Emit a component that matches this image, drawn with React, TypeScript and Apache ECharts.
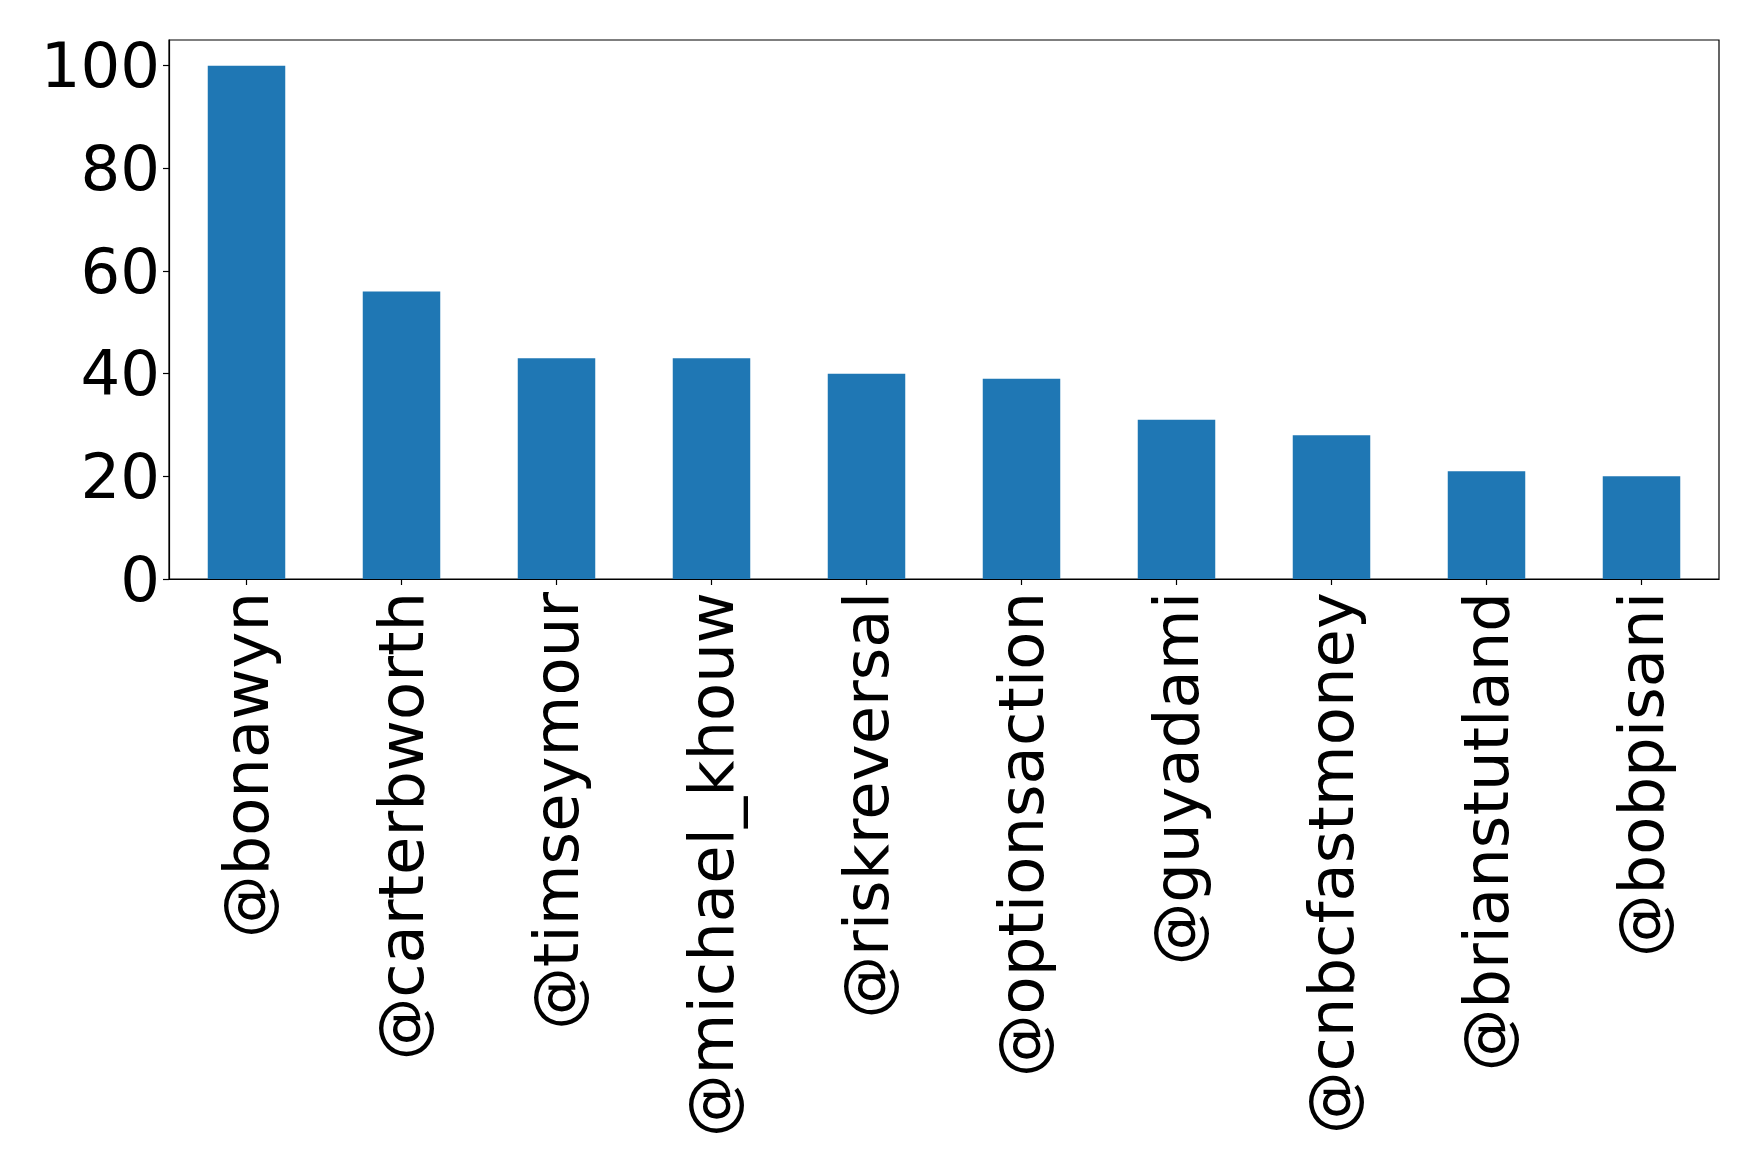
import React, { useEffect, useRef } from "react";
import * as echarts from "echarts";

// Mention counts per account
const handles = [
  "@bonawyn",
  "@carterbworth",
  "@timseymour",
  "@michael_khouw",
  "@riskreversal",
  "@optionsaction",
  "@guyadami",
  "@cnbcfastmoney",
  "@brianstutland",
  "@bobpisani",
];
const counts = [100, 56, 43, 43, 40, 39, 31, 28, 21, 20];
const yTicks = [0, 20, 40, 60, 80, 100];

const FONT = "DejaVu Sans";

export default function App() {
  const ref = useRef<HTMLDivElement>(null);

  useEffect(() => {
    document.body.style.margin = "0";
    if (!ref.current) return;
    const chart = echarts.init(ref.current, null, { renderer: "svg" });
    chart.setOption({
      animation: false,
      backgroundColor: "#ffffff",
      grid: {
        left: 169,
        top: 40,
        right: 39,
        bottom: 594,
        show: true,
        borderColor: "#000000",
        borderWidth: 1.2,
        backgroundColor: "transparent",
      },
      xAxis: {
        type: "category",
        data: handles,
        boundaryGap: true,
        axisLine: { show: true, lineStyle: { color: "#000000", width: 1.2 } },
        axisTick: {
          show: true,
          alignWithLabel: true,
          length: 6,
          lineStyle: { color: "#000000", width: 1.2 },
        },
        axisLabel: {
          rotate: 90,
          interval: 0,
          margin: 13,
          color: "#000000",
          fontFamily: FONT,
          fontSize: 62.5,
        },
        splitLine: { show: false },
      },
      yAxis: {
        type: "value",
        min: 0,
        max: 105,
        axisLine: { show: true, lineStyle: { color: "#000000", width: 1.2 } },
        axisTick: {
          show: true,
          length: 6,
          customValues: yTicks,
          lineStyle: { color: "#000000", width: 1.2 },
        },
        axisLabel: {
          customValues: yTicks,
          margin: 9,
          color: "#000000",
          fontFamily: FONT,
          fontSize: 62.5,
        },
        splitLine: { show: false },
      },
      series: [
        {
          type: "bar",
          data: counts,
          barWidth: "50%",
          itemStyle: { color: "#1f77b4" },
        },
      ],
    });
    return () => chart.dispose();
  }, []);

  return <div ref={ref} style={{ width: 1758, height: 1173 }} />;
}
